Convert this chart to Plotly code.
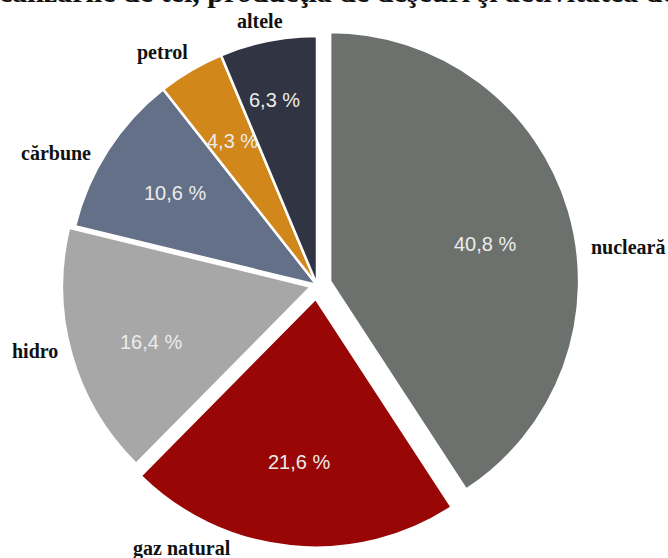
import math
import plotly.graph_objects as go

# Electricity production by source (%)
sources = ["nucleară", "gaz natural", "hidro", "cărbune", "petrol", "altele"]
shares = [40.8, 21.6, 16.4, 10.6, 4.3, 6.3]
colors = ["#6c716e", "#980606", "#a7a7a7", "#637088", "#d2871b", "#313543"]

# Figure geometry (pixels)
W, H = 668, 558
CX, CY = 317, 285          # pie centre, from the top-left corner
R = 249                    # pie radius
pulls = [0.055, 0.055, 0.025, 0.0, 0.0, 0.0]
max_pull = max(pulls)
box = 2 * R * (1 + max_pull)

dom_x = [(CX - box / 2) / W, (CX + box / 2) / W]
dom_y = [(H - CY - box / 2) / H, (H - CY + box / 2) / H]

fig = go.Figure(
    go.Pie(
        labels=sources,
        values=shares,
        sort=False,
        direction="clockwise",
        rotation=0,
        pull=pulls,
        marker=dict(colors=colors, line=dict(color="white", width=2.5)),
        textinfo="none",
        hoverinfo="label+percent",
        showlegend=False,
        domain=dict(x=dom_x, y=dom_y),
    )
)

# Percentage labels placed along each slice's mid angle
label_radius = [0.64, 0.66, 0.68, 0.68, 0.67, 0.76]
label_turn = [3.0, 0.0, -3.0, 0.0, 0.0, -1.5]   # small angular nudges, degrees
total = sum(shares)
cum = 0.0
annotations = []
for i, v in enumerate(shares):
    mid = (cum + v / 2) / total * 2 * math.pi + math.radians(label_turn[i])
    cum += v
    r = (label_radius[i] + pulls[i]) * R
    px = CX + r * math.sin(mid)
    py = CY - r * math.cos(mid)
    annotations.append(dict(
        x=px / W, y=1 - py / H, xref="paper", yref="paper",
        text=f"{v:.1f}".replace(".", ",") + " %",
        showarrow=False,
        font=dict(family="Liberation Sans, Arial, sans-serif", size=20, color="#ececec"),
        xanchor="center", yanchor="middle",
    ))

# Category names outside the pie
name_pos = {
    "nucleară": (628, 247),
    "gaz natural": (182, 548),
    "hidro": (35, 351),
    "cărbune": (56, 153),
    "petrol": (162, 53),
    "altele": (260, 21),
}
for name in sources:
    px, py = name_pos[name]
    annotations.append(dict(
        x=px / W, y=1 - py / H, xref="paper", yref="paper",
        text=f"<b>{name}</b>",
        showarrow=False,
        font=dict(family="Liberation Serif, Times New Roman, serif", size=20, color="#111111"),
        xanchor="center", yanchor="middle",
    ))

# Running text from the page above the chart, cut by the top edge
annotations.append(dict(
    x=-0.005, y=1 + 9 / H, xref="paper", yref="paper",
    text="<b>calizările de tei, producţia de deşeuri şi activitatea de</b>",
    showarrow=False,
    font=dict(family="Liberation Serif, Times New Roman, serif", size=30, color="#111111"),
    xanchor="left", yanchor="middle",
))

fig.update_layout(
    width=W, height=H,
    margin=dict(l=0, r=0, t=0, b=0),
    paper_bgcolor="white",
    plot_bgcolor="white",
    annotations=annotations,
)

fig.write_html("out.html")
